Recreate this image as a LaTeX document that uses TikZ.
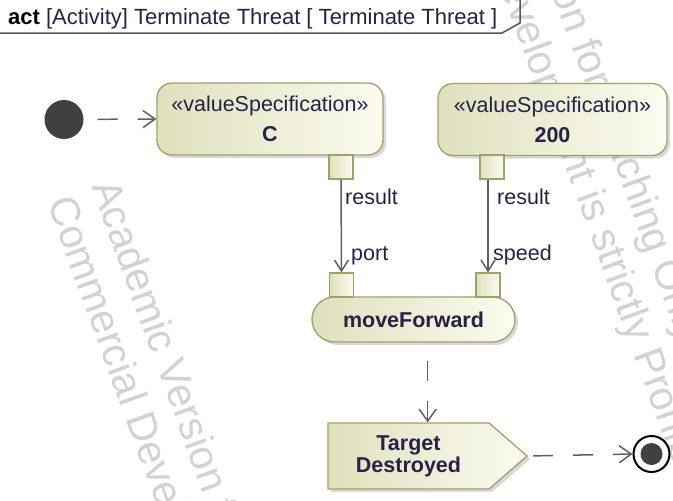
\documentclass[tikz,border=0pt]{standalone}
\usepackage{fontspec}
\setmainfont{Liberation Sans}
\usetikzlibrary{shapes.misc,shapes.symbols,arrows.meta,positioning,calc,shadows}
\definecolor{umlborder}{RGB}{160,160,105}
\definecolor{umlfillA}{RGB}{224,224,190}
\definecolor{umlfillB}{RGB}{251,251,240}
\definecolor{umltext}{RGB}{35,35,70}
\definecolor{flowgray}{RGB}{95,95,95}
\definecolor{framegray}{RGB}{85,85,85}
\definecolor{dotgray}{RGB}{64,64,64}
\definecolor{wmgray}{RGB}{210,210,210}

\begin{document}
\begin{tikzpicture}[x=1pt, y=-1pt,
    every node/.style={font=\fontsize{21.5}{30}\selectfont, text=umltext},
    umlfill/.style={draw=umlborder, line width=1.3pt, left color=umlfillA, right color=umlfillB},
    shadowed/.style={drop shadow={shadow xshift=3pt, shadow yshift=-3pt, opacity=0.3}},
    valbox/.style={umlfill, shadowed, rounded corners=15pt, minimum height=72pt, align=center, inner sep=0pt},
    pinbox/.style={umlfill, minimum size=24pt, inner sep=0pt},
    ctrlflow/.style={draw=flowgray, line width=1.5pt, dash pattern=on 20pt off 20pt, -{Straight Barb[length=12pt, width=17pt]}},
    objflow/.style={draw=flowgray, line width=1.5pt, -{Straight Barb[length=11pt, width=14pt]}},
    pinlabel/.style={anchor=west, inner sep=0pt},
    wmark/.style={anchor=base west, rotate=-70, align=left, text=wmgray, font=\fontsize{41}{47}\selectfont, inner sep=0pt}]
    \useasboundingbox (0,0) rectangle (673,501);

    % Watermark
    \begin{scope}
        \clip (0,0) rectangle (673,501);
        \node[wmark] (wmLeft) at (47,202) {Academic Version for Teaching Only\\Commercial Development is strictly Prohibited};
        \node[wmark] (wmRight) at (411,-258) {Academic Version for Teaching Only\\Commercial Development is strictly Prohibited};
    \end{scope}

    % Frame header
    \node[anchor=west, inner sep=0pt, font=\fontsize{22}{26}\selectfont] (title) at (8,19) {\textcolor{black}{\textbf{act}} [Activity] Terminate Threat [ Terminate Threat ]};
    \draw[framegray, line width=1.5pt] (0,33) -- (502,33) -- (520,23) -- (520,0);

    % Value specifications
    \node[circle, fill=dotgray, minimum size=39pt, inner sep=0pt] (initnode) at (64,119.5) {};
    \node[valbox, minimum width=226pt] (valC) at (270,119) {«valueSpecification»\\\textbf{C}};
    \node[valbox, minimum width=229pt] (val200) at (552.5,119.5) {«valueSpecification»\\\textbf{200}};
    \node[pinbox] (pinC) at (341,167) {};
    \node[pinbox] (pin200) at (492,167) {};

    % Action and its pins
    \node[rounded rectangle, umlfill, shadowed, minimum width=203pt, minimum height=45pt, inner sep=0pt] (moveFwd) at (413.5,319.5) {\textbf{moveForward}};
    \node[pinbox] (pinPort) at (341.5,285) {};
    \node[pinbox] (pinSpeed) at (488,285) {};

    % Send signal and final node
    \node[signal, signal to=east, signal pointer angle=82, umlfill, shadowed, minimum height=66pt, inner xsep=28pt, inner ysep=0pt, align=center, font=\fontsize{21.5}{22}\selectfont] (sendTarget) at (408.5,456) {\textbf{Target}\\\textbf{Destroyed}};
    \node[circle, draw=black, line width=2pt, fill=white, minimum size=36pt, inner sep=0pt,
        path picture={\fill[dotgray] (path picture bounding box.center) circle (11pt);}] (finalnode) at (651.5,454) {};
    \coordinate (sendMid) at ($(sendTarget.west)!0.5!(sendTarget.east)$);

    % Flows
    \draw[ctrlflow, shorten <=14pt] (initnode) -- (valC.west);
    \draw[objflow] (pinC.south) -- (pinPort.north);
    \draw[objflow] (pinSpeed.north |- pin200.south) -- (pinSpeed.north);
    \draw[ctrlflow, shorten <=18pt] (moveFwd.south -| sendMid) -- (sendMid |- sendTarget.north);
    \draw[ctrlflow, shorten <=5pt] (sendTarget.east) -- (finalnode.west);

    % Pin labels
    \node[pinlabel] (lblResultC) at (345,197) {result};
    \node[pinlabel] (lblPort) at (351,256) {port};
    \node[pinlabel] (lblResult200) at (497,197) {result};
    \node[pinlabel] (lblSpeed) at (493,255) {speed};
\end{tikzpicture}
\end{document}
